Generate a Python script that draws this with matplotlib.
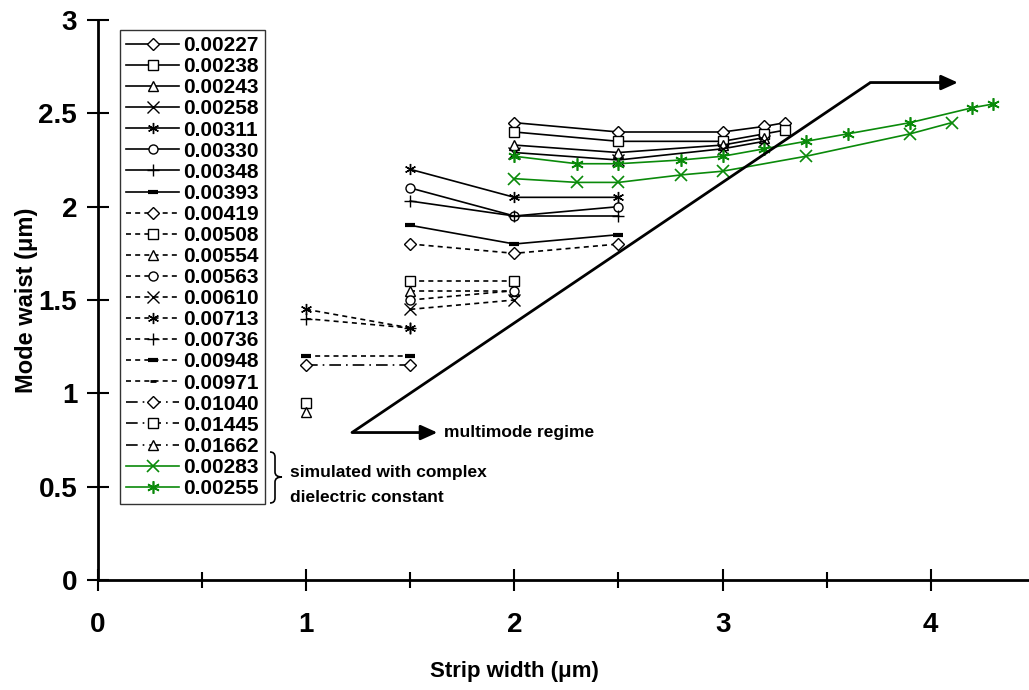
import matplotlib
matplotlib.use("Agg")
import matplotlib.pyplot as plt
from matplotlib.path import Path
from matplotlib.patches import PathPatch

plt.rcParams['font.family'] = ['Liberation Sans', 'DejaVu Sans']
plt.rcParams['font.weight'] = 'bold'

# ---------------- data ----------------
labels = ['0.00227', '0.00238', '0.00243', '0.00258', '0.00311', '0.00330', '0.00348', '0.00393',
          '0.00419', '0.00508', '0.00554', '0.00563', '0.00610', '0.00713', '0.00736', '0.00948',
          '0.00971', '0.01040', '0.01445', '0.01662', '0.00283', '0.00255']

x_00227 = [2, 2.5, 3, 3.2, 3.3]; y_00227 = [2.45, 2.40, 2.40, 2.43, 2.45]
x_00238 = [2, 2.5, 3, 3.2, 3.3]; y_00238 = [2.40, 2.35, 2.35, 2.39, 2.41]
x_00243 = [2, 2.5, 3, 3.2];      y_00243 = [2.33, 2.29, 2.33, 2.37]
x_00258 = [2, 2.5, 3, 3.2];      y_00258 = [2.29, 2.25, 2.31, 2.35]
x_00311 = [1.5, 2, 2.5];         y_00311 = [2.20, 2.05, 2.05]
x_00330 = [1.5, 2, 2.5];         y_00330 = [2.10, 1.95, 2.00]
x_00348 = [1.5, 2, 2.5];         y_00348 = [2.03, 1.95, 1.95]
x_00393 = [1.5, 2, 2.5];         y_00393 = [1.90, 1.80, 1.85]
x_00419 = [1.5, 2, 2.5];         y_00419 = [1.80, 1.75, 1.80]
x_00508 = [1.5, 2];              y_00508 = [1.60, 1.60]
x_00554 = [1.5, 2];              y_00554 = [1.55, 1.55]
x_00563 = [1.5, 2];              y_00563 = [1.50, 1.55]
x_00610 = [1.5, 2];              y_00610 = [1.45, 1.50]
x_00713 = [1, 1.5];              y_00713 = [1.45, 1.35]
x_00736 = [1, 1.5];              y_00736 = [1.40, 1.35]
x_00948 = [1, 1.5];              y_00948 = [1.20, 1.20]
x_00971 = [];                    y_00971 = []
x_01040 = [1, 1.5];              y_01040 = [1.15, 1.15]
x_01445 = [1];                   y_01445 = [0.95]
x_01662 = [1];                   y_01662 = [0.90]
x_00283 = [2, 2.3, 2.5, 2.8, 3, 3.4, 3.9, 4.1]
y_00283 = [2.15, 2.13, 2.13, 2.17, 2.19, 2.27, 2.39, 2.45]
x_00255 = [2, 2.3, 2.5, 2.8, 3, 3.2, 3.4, 3.6, 3.9, 4.2, 4.3]
y_00255 = [2.27, 2.23, 2.23, 2.25, 2.27, 2.31, 2.35, 2.39, 2.45, 2.53, 2.55]

xs = [x_00227, x_00238, x_00243, x_00258, x_00311, x_00330, x_00348, x_00393,
      x_00419, x_00508, x_00554, x_00563, x_00610, x_00713, x_00736, x_00948,
      x_00971, x_01040, x_01445, x_01662, x_00283, x_00255]
ys = [y_00227, y_00238, y_00243, y_00258, y_00311, y_00330, y_00348, y_00393,
      y_00419, y_00508, y_00554, y_00563, y_00610, y_00713, y_00736, y_00948,
      y_00971, y_01040, y_01445, y_01662, y_00283, y_00255]

# multimode boundary (annotation)
boundary_x = [1.22, 3.71]
boundary_y = [0.79, 2.665]
arrow_low_end = 1.63
arrow_high_end = 4.13

x_ticks = [0, 1, 2, 3, 4]
x_ticklabels = ['0', '1', '2', '3', '4']
x_minor = [0.5, 1.5, 2.5, 3.5]
y_ticks = [0, 0.5, 1, 1.5, 2, 2.5, 3]
y_ticklabels = ['0', '0.5', '1', '1.5', '2', '2.5', '3']

# ---------------- styles ----------------
AST = (6, 2, 0)
markers = ['D', 's', '^', 'x', AST, 'o', '+', '_',
           'D', 's', '^', 'o', 'x', AST, '+', '_',
           '_', 'D', 's', '^', 'x', AST]
solid = '-'
dash = (0, (3.0, 2.5))
dashdot = (0, (7, 3, 1, 3))
styles = [solid] * 8 + [dash] * 9 + [dashdot] * 3 + [solid, solid]
colors = ['black'] * 20 + ['#0a8a0a', '#0a8a0a']

fs_leg = 15
fs_tick = 20
fs_lab = 16
fs_ann = 12.5

fig = plt.figure(figsize=(10.29, 6.9), dpi=100)
xmax = (1029 - 98) / 208.2
ax = fig.add_axes([98 / 1029, 110 / 690, 931 / 1029, 560 / 690])

handles = []
for i, lab in enumerate(labels):
    m = markers[i]
    ms = 6.5
    mew = 1.0
    if m == '_':
        ms = 7
        mew = 3.0 if i in (7, 15) else 2.0
        if i == 16:
            ms = 5
    if m in ('x', AST, '+'):
        ms = 8
    if i >= 20:
        ms = 9
        mew = 1.2
    line, = ax.plot(xs[i], ys[i], color=colors[i], linestyle=styles[i], linewidth=1.2,
                    marker=m, markersize=ms, markeredgewidth=mew,
                    markerfacecolor='white', markeredgecolor=colors[i], label=lab,
                    zorder=3, clip_on=False)
    handles.append(line)

# boundary line and arrows
ax.plot(boundary_x, boundary_y, color='black', linewidth=2, zorder=4, solid_capstyle='butt')
ax.annotate('', xy=(arrow_low_end, boundary_y[0]), xytext=(boundary_x[0], boundary_y[0]),
            arrowprops=dict(arrowstyle='-|>,head_length=1.0,head_width=0.45', color='black',
                            lw=2, shrinkA=0, shrinkB=0), zorder=4)
ax.annotate('', xy=(arrow_high_end, boundary_y[1]), xytext=(boundary_x[1], boundary_y[1]),
            arrowprops=dict(arrowstyle='-|>,head_length=1.0,head_width=0.45', color='black',
                            lw=2, shrinkA=0, shrinkB=0), zorder=4)
ax.text(1.66, boundary_y[0], 'multimode regime', fontsize=fs_ann, fontweight='bold',
        ha='left', va='center')

ax.set_xlim(0, xmax)
ax.set_ylim(0, 3)
for s in ('top', 'right'):
    ax.spines[s].set_visible(False)
for s in ('left', 'bottom'):
    ax.spines[s].set_linewidth(2)
ax.set_xticks(x_ticks)
ax.set_xticklabels(x_ticklabels)
ax.set_xticks(x_minor, minor=True)
ax.set_yticks(y_ticks)
ax.set_yticklabels(y_ticklabels)
ax.tick_params(axis='both', which='major', direction='inout', length=16, width=1.5,
               labelsize=fs_tick)
ax.tick_params(axis='x', which='major', pad=15)
ax.tick_params(axis='y', which='major', pad=7)
ax.tick_params(axis='x', which='minor', direction='inout', length=11, width=1.5)
for t in ax.get_xticklabels() + ax.get_yticklabels():
    t.set_fontweight('bold')

ax.set_xlabel('Strip width (μm)', fontsize=fs_lab, fontweight='bold')
ax.xaxis.set_label_coords(2 / xmax, -0.145)
ax.set_ylabel('Mode waist (μm)', fontsize=fs_lab + 1, fontweight='bold')
ax.yaxis.set_label_coords(-0.064, 0.5)

leg = ax.legend(handles=handles, loc='upper left', bbox_to_anchor=(22 / 931, 550 / 560),
                borderaxespad=0, frameon=True, fancybox=False, edgecolor='black',
                prop={'weight': 'bold', 'size': fs_leg}, handlelength=2.55, handletextpad=0.2,
                labelspacing=0.10, borderpad=0.3)
leg.get_frame().set_linewidth(1.0)

# curly brace next to the green legend entries (figure pixel coords)
W, H = 1029, 690
def fp(px, py):
    return (px / W, 1 - py / H)
bx0, bx1, ytop, ybot, ymid = 270, 282, 452, 503, 477
verts = [fp(bx0, ytop), fp(bx0 + 5, ytop), fp(bx0 + 5, ytop + 5),
         fp(bx0 + 5, ymid - 5), fp(bx0 + 5, ymid), fp(bx1, ymid),
         fp(bx0 + 5, ymid), fp(bx0 + 5, ymid + 5),
         fp(bx0 + 5, ybot - 5), fp(bx0 + 5, ybot), fp(bx0, ybot)]
codes = [Path.MOVETO, Path.CURVE3, Path.CURVE3, Path.LINETO, Path.CURVE3, Path.CURVE3,
         Path.CURVE3, Path.CURVE3, Path.LINETO, Path.CURVE3, Path.CURVE3]
fig.patches.append(PathPatch(Path(verts, codes), transform=fig.transFigure,
                             facecolor='none', edgecolor='black', lw=1.2))
fig.text(290 / W, 1 - 473 / H, 'simulated with complex', fontsize=fs_ann, fontweight='bold',
         ha='left', va='center')
fig.text(290 / W, 1 - 497 / H, 'dielectric constant', fontsize=fs_ann, fontweight='bold',
         ha='left', va='center')

fig.savefig('out.png', dpi=100)
